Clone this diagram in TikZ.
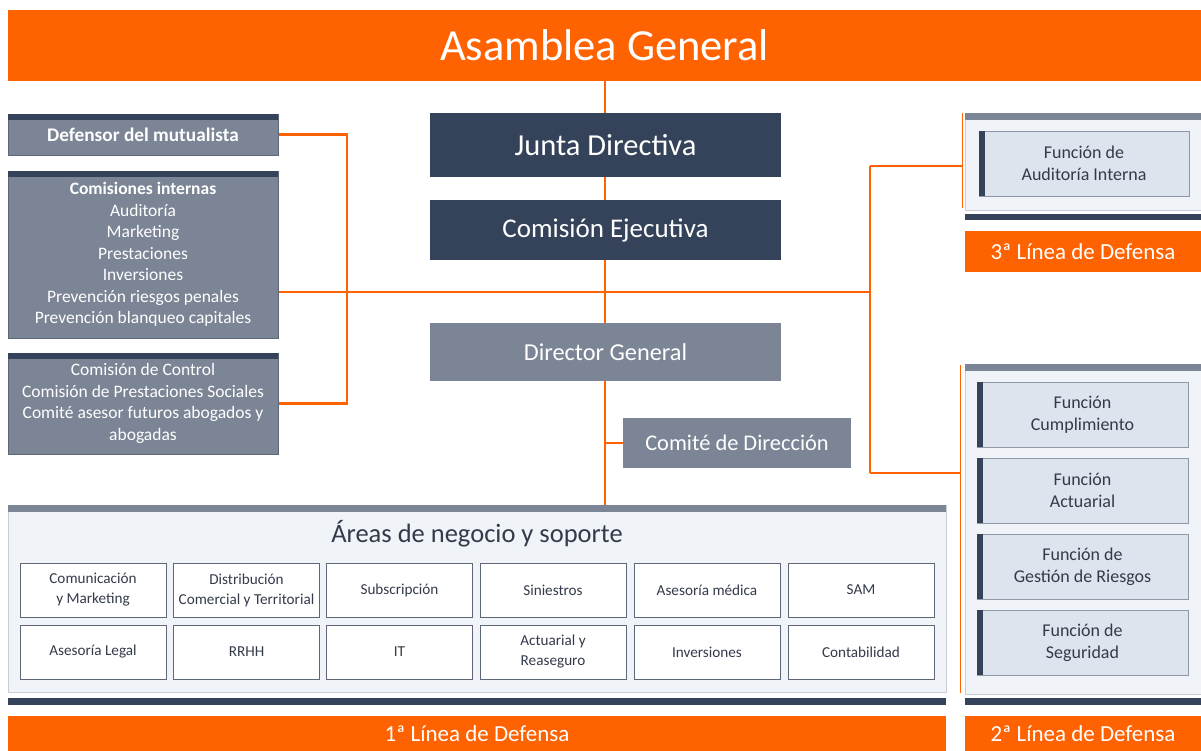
\documentclass[tikz,border=0pt]{standalone}
\usepackage{fontspec}
\setmainfont{Carlito}
\definecolor{orng}{HTML}{FF6200}
\definecolor{navy}{HTML}{34435A}
\definecolor{slate}{HTML}{7B8595}
\definecolor{slateb}{HTML}{5E6778}
\definecolor{panel}{HTML}{F0F3F8}
\definecolor{panelb}{HTML}{C9CED6}
\definecolor{func}{HTML}{DEE4ED}
\definecolor{funcb}{HTML}{8E97A6}
\definecolor{txt}{HTML}{333A4A}
\pgfdeclarelayer{background}
\pgfsetlayers{background,main}
\tikzset{
  orangebar/.style={fill=orng, text=white, inner sep=0pt},
  navybox/.style={fill=navy, text=white, inner sep=0pt, minimum width=351pt},
  greybox/.style={fill=slate, text=white, inner sep=0pt},
  leftbox/.style={fill=slate, draw=slateb, line width=0.8pt, text=white, inner sep=0pt, minimum width=270pt, align=center, font=\fontsize{17.5}{21.5}\selectfont},
  panelbox/.style={fill=panel, draw=panelb, line width=0.8pt, inner sep=0pt},
  areabox/.style={fill=white, draw=slateb, line width=0.9pt, text=txt, inner sep=0pt, minimum width=146pt, minimum height=54pt, align=center, font=\fontsize{15.2}{20}\selectfont},
  funcbox/.style={fill=func, draw=funcb, line width=0.8pt, text=txt, inner sep=0pt, minimum height=65pt, align=center, font=\fontsize{18}{22}\selectfont},
  darkbar/.style={fill=navy, inner sep=0pt},
  conn/.style={draw=orng, line width=2.2pt},
  thin/.style={draw=orng, line width=1pt},
}
\begin{document}
\begin{tikzpicture}[x=1pt,y=-1pt]
\useasboundingbox (0,0) rectangle (1201,751);
% top
\node[orangebar, minimum width=1193pt, minimum height=71pt, font=\fontsize{44.5}{44}\selectfont] (ag) at (604.5,45.5) {Asamblea General};
% central column
\node[navybox, minimum height=64pt, font=\fontsize{30.5}{30}\selectfont] (jd) at (605.5,145) {Junta Directiva};
\node[navybox, minimum height=60pt, font=\fontsize{27}{27}\selectfont] (ce) at (605.5,230) {Comisión Ejecutiva};
\node[greybox, minimum width=351pt, minimum height=58pt, font=\fontsize{24.3}{24}\selectfont] (dg) at (605.5,352) {Director General};
\node[greybox, minimum width=228pt, minimum height=50pt, font=\fontsize{22.4}{22}\selectfont] (cd) at (737,443) {Comité de Dirección};
% left boxes
\node[leftbox, minimum height=41pt, font=\bfseries\fontsize{19.3}{20}\selectfont] (def) at (143,134.5) {\raisebox{-2pt}{Defensor del mutualista}};
\fill[navy] (def.north west) rectangle ([yshift=-6pt]def.north east);
\node[leftbox, minimum height=167pt] (com) at (143,254.5) {\raisebox{-3pt}{\parbox{270pt}{\centering{\bfseries Comisiones internas}\\Auditoría\\Marketing\\Prestaciones\\Inversiones\\Prevención riesgos penales\\Prevención blanqueo capitales}}};
\fill[navy] (com.north west) rectangle ([yshift=-6pt]com.north east);
\node[leftbox, minimum height=101pt] (oth) at (143,403.5) {\raisebox{-2pt}{\parbox{270pt}{\centering Comisión de Control\\Comisión de Prestaciones Sociales\\Comité asesor futuros abogados y\\abogadas}}};
\fill[navy] (oth.north west) rectangle ([yshift=-6pt]oth.north east);
% areas panel
\node[panelbox, minimum width=938pt, minimum height=187pt] (areas) at (477,598.5) {};
\fill[slate] (areas.north west) rectangle ([yshift=-7pt]areas.north east);
\node[text=txt, inner sep=0pt, font=\fontsize{26.5}{26}\selectfont] (areat) at (477,534) {Áreas de negocio y soporte};
\node[areabox] (a1) at (93,590) {Comunicación\\y Marketing};
\node[areabox] (a2) at (246.5,590) {Distribución\\Comercial y Territorial};
\node[areabox] (a3) at (399.5,590) {Subscripción};
\node[areabox] (a4) at (553,590) {Siniestros};
\node[areabox] (a5) at (707,590) {Asesoría médica};
\node[areabox] (a6) at (861,590) {SAM};
\node[areabox] (b1) at (93,652) {Asesoría Legal};
\node[areabox] (b2) at (246.5,652) {RRHH};
\node[areabox] (b3) at (399.5,652) {IT};
\node[areabox] (b4) at (553,652) {Actuarial y\\Reaseguro};
\node[areabox] (b5) at (707,652) {Inversiones};
\node[areabox] (b6) at (861,652) {Contabilidad};
\node[darkbar, minimum width=938pt, minimum height=7pt] (db1) at (477,701.5) {};
\node[orangebar, minimum width=938pt, minimum height=36pt, font=\fontsize{23}{23}\selectfont] (l1) at (477,734) {1ª Línea de Defensa};
% right upper panel
\node[panelbox, minimum width=236pt, minimum height=97pt] (p3) at (1083,161.5) {};
\fill[slate] (p3.north west) rectangle ([yshift=-7pt]p3.north east);
\node[funcbox, minimum width=210pt] (fai) at (1084,163.5) {Función de\\Auditoría Interna};
\fill[navy] (fai.north west) rectangle ([xshift=6pt]fai.south west);
\node[darkbar, minimum width=236pt, minimum height=6pt] (db3) at (1083,217) {};
\node[orangebar, minimum width=236pt, minimum height=41pt, font=\fontsize{23}{23}\selectfont] (l3) at (1083,251.5) {3ª Línea de Defensa};
% right lower panel
\node[panelbox, minimum width=236pt, minimum height=330pt] (p2) at (1083,529) {};
\fill[slate] (p2.north west) rectangle ([yshift=-7pt]p2.north east);
\node[funcbox, minimum width=211pt] (f1) at (1082.5,414.5) {Función\\Cumplimiento};
\node[funcbox, minimum width=211pt] (f2) at (1082.5,490.5) {Función\\Actuarial};
\node[funcbox, minimum width=211pt] (f3) at (1082.5,566.5) {Función de\\Gestión de Riesgos};
\node[funcbox, minimum width=211pt] (f4) at (1082.5,642.5) {Función de\\Seguridad};
\foreach \f in {f1,f2,f3,f4}{\fill[navy] (\f.north west) rectangle ([xshift=6pt]\f.south west);}
\node[darkbar, minimum width=236pt, minimum height=7pt] (db2) at (1083,701.5) {};
\node[orangebar, minimum width=236pt, minimum height=36pt, font=\fontsize{23}{23}\selectfont] (l2) at (1083,734) {2ª Línea de Defensa};
% connectors
\coordinate (trunkT) at (605,81);
\coordinate (trunkB) at (605,505);
\coordinate (hL) at (278,292);
\coordinate (hR) at (870,292);
\coordinate (rT) at (870,166);
\coordinate (rB) at (870,473);
\coordinate (lbx) at (347,0);
\coordinate (u1) at (962.5,113);
\coordinate (u2) at (962.5,208);
\coordinate (w1) at (960.5,365);
\coordinate (w2) at (960.5,693);
\begin{pgfonlayer}{background}
\draw[conn] (trunkT) -- (trunkB);
\draw[conn] (cd.west) -- (cd.west -| trunkB);
\draw[conn] (hL) -- (hR);
\draw[conn] (rT) -- (rB);
\draw[conn] (rT) -- (rT -| u1);
\draw[conn] (rB) -- (rB -| w1);
\draw[thin] (u1) -- (u2);
\draw[thin] (w1) -- (w2);
\draw[conn] (def.east) -- (def.east -| lbx) -- (oth.east -| lbx) -- (oth.east);
\end{pgfonlayer}
\end{tikzpicture}
\end{document}
